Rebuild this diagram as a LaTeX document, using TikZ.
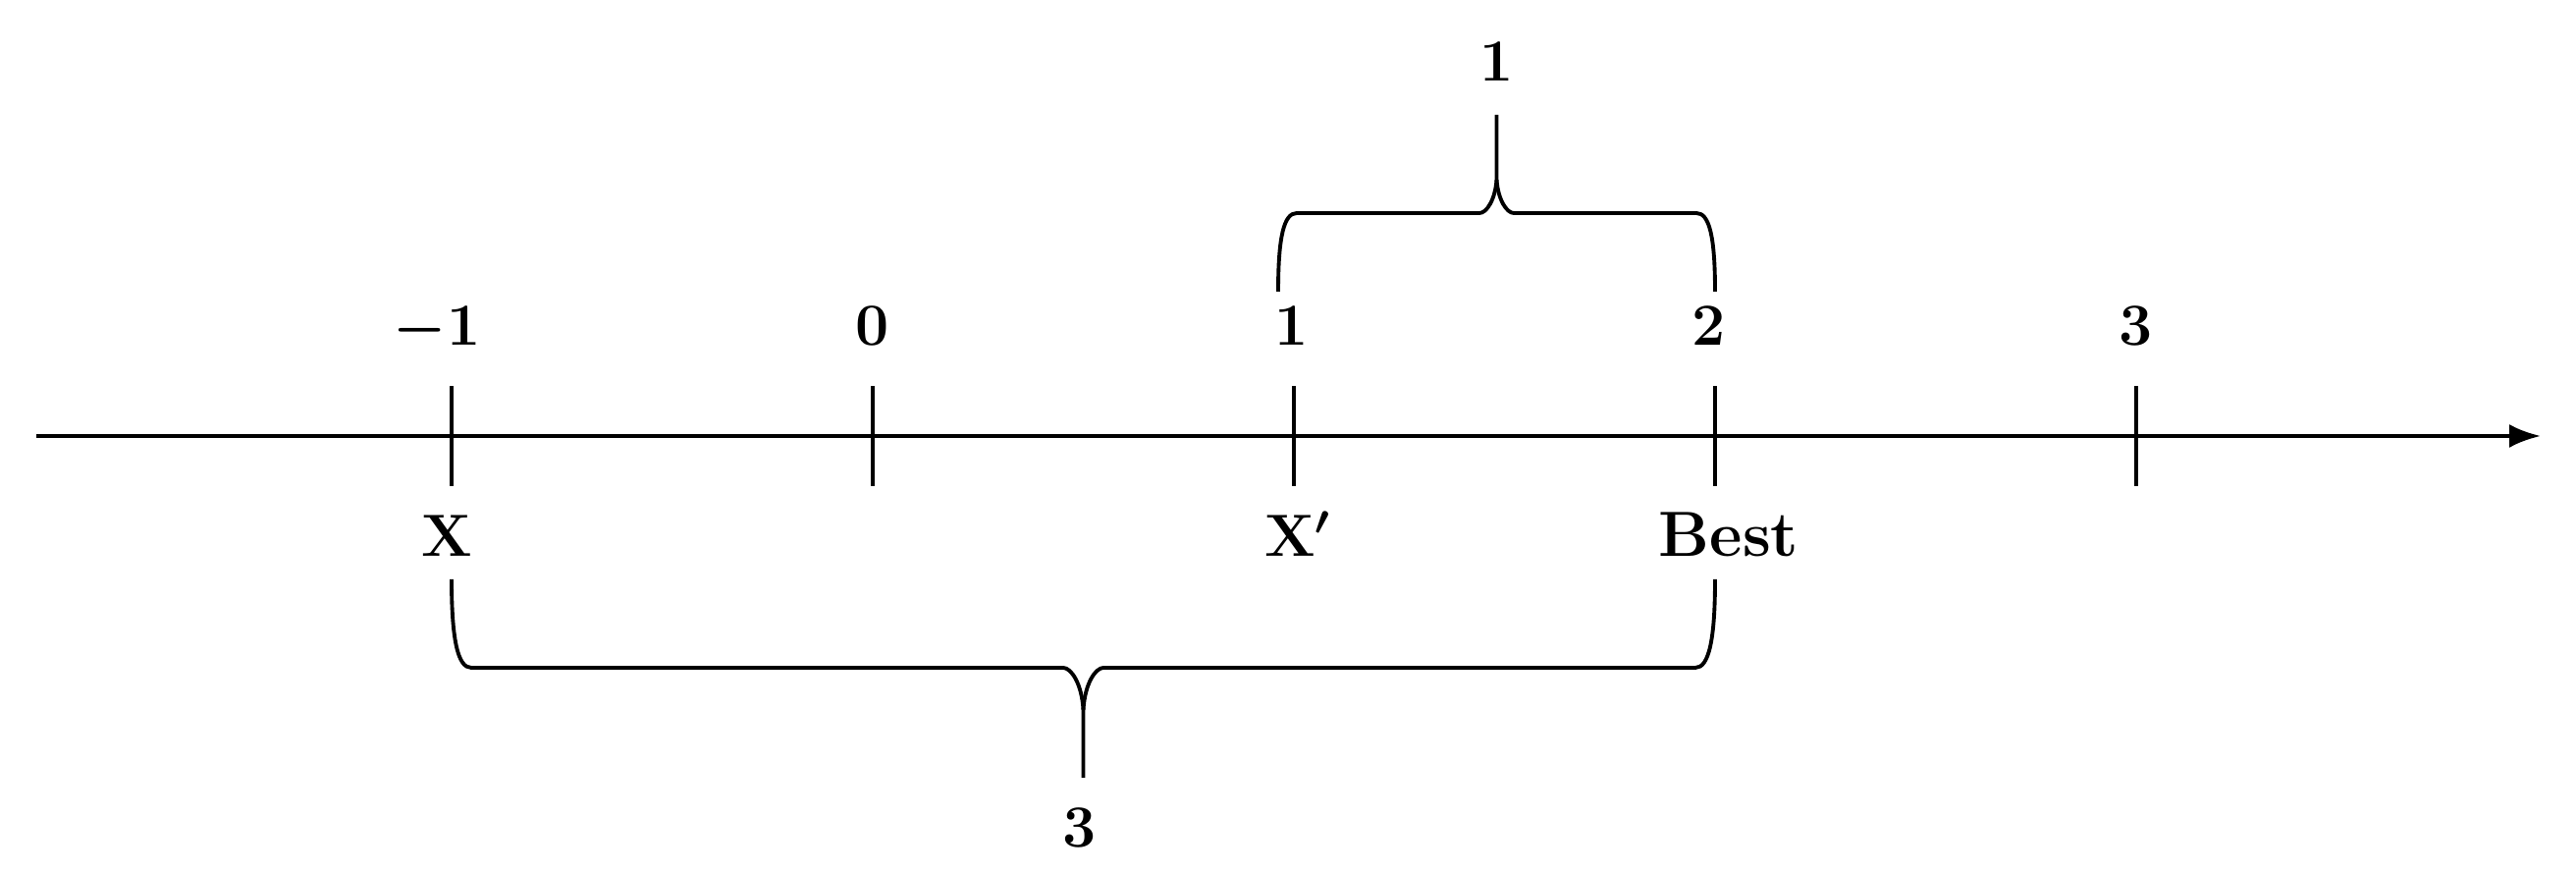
\documentclass[tikz,border=0pt]{standalone}
\usepackage{amsmath}
\usetikzlibrary{arrows.meta}
\usetikzlibrary{positioning}

\begin{document}
\begin{tikzpicture}[
    lbl/.style={inner sep=0pt, font=\fontsize{18.5}{22}\selectfont\boldmath},
    tick/.style={line width=1.2pt},
    brace/.style={line width=1.1pt, line join=round}
]
    \useasboundingbox (0,0) rectangle (26.24,8.9);

    % number line
    \coordinate (start) at (0.37,4.46);
    \coordinate (end) at (25.88,4.46);
    \draw[line width=1.2pt,-{Latex[length=0.32cm,width=0.24cm]}] (start)--(end);

    \coordinate (pm1) at (4.60,4.46);
    \coordinate (p0) at (8.89,4.46);
    \coordinate (p1) at (13.18,4.46);
    \coordinate (p2) at (17.47,4.46);
    \coordinate (p3) at (21.76,4.46);
    \draw[tick] (pm1) ++(0,-0.51) -- ++(0,1.02);
    \draw[tick] (p0) ++(0,-0.51) -- ++(0,1.02);
    \draw[tick] (p1) ++(0,-0.51) -- ++(0,1.02);
    \draw[tick] (p2) ++(0,-0.51) -- ++(0,1.02);
    \draw[tick] (p3) ++(0,-0.51) -- ++(0,1.02);

    \node[lbl,anchor=base east] at (4.90,5.38) (lm1) {$-1$};
    \node[lbl,anchor=base] at (8.89,5.38) (l0) {$0$};
    \node[lbl,anchor=base] at (13.16,5.38) (l1) {$1$};
    \node[lbl,anchor=base] at (17.41,5.38) (l2) {$2$};
    \node[lbl,anchor=base] at (21.76,5.38) (l3) {$3$};

    \node[lbl,anchor=base] at (4.55,3.23) (x) {$\mathbf{X}$};
    \node[lbl,anchor=base] at (13.14,3.23) (xp) {$\mathbf{X}$\rlap{$'$}};
    \node[lbl,anchor=base] at (17.61,3.23) (best) {\textbf{Best}};

    % braces
    \draw[brace] (13.02,5.93) .. controls (13.02,6.50) and (13.08,6.73) .. (13.21,6.73) -- (15.07,6.73)
        .. controls (15.14,6.73) and (15.23,6.86) .. (15.245,7.07) -- (15.245,7.73);
    \draw[brace] (17.47,5.93) .. controls (17.47,6.50) and (17.41,6.73) .. (17.28,6.73) -- (15.42,6.73)
        .. controls (15.35,6.73) and (15.26,6.86) .. (15.245,7.07);
    \node[lbl,anchor=base] at (15.25,8.07) (dist1) {$1$};

    \draw[brace] (4.60,3.00) .. controls (4.60,2.40) and (4.66,2.10) .. (4.80,2.10) -- (10.83,2.10)
        .. controls (10.91,2.10) and (11.02,1.94) .. (11.035,1.67) -- (11.035,0.98);
    \draw[brace] (17.47,3.00) .. controls (17.47,2.40) and (17.41,2.10) .. (17.27,2.10) -- (11.24,2.10)
        .. controls (11.16,2.10) and (11.05,1.94) .. (11.035,1.67);
    \node[lbl,anchor=base] at (11.00,0.27) (dist3) {$3$};
\end{tikzpicture}
\end{document}
